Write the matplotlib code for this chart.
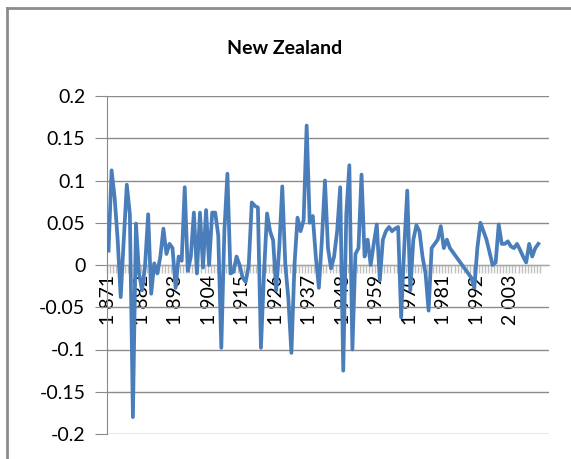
import matplotlib
matplotlib.use("Agg")
import matplotlib.pyplot as plt
import numpy as np
from matplotlib.ticker import FuncFormatter
from matplotlib.lines import Line2D

# yearly values, 1871-2012
years = list(range(1871, 2013))
values = [
    0.017, 0.112, 0.080, 0.030, -0.038, 0.030, 0.095, 0.060, -0.180, 0.049,
    -0.010, -0.030, 0.000, 0.060, -0.034, 0.002, -0.010, 0.010, 0.043, 0.013,
    0.025, 0.020, -0.027, 0.010, 0.005, 0.092, -0.007, 0.010, 0.062, -0.010,
    0.062, -0.003, 0.065, 0.000, 0.062, 0.062, 0.035, -0.098, 0.040, 0.108,
    -0.010, -0.008, 0.010, 0.000, -0.015, -0.020, 0.000, 0.074, 0.070, 0.068,
    -0.098, -0.010, 0.061, 0.040, 0.029, -0.030, 0.020, 0.093, 0.000, -0.040,
    -0.104, 0.000, 0.056, 0.040, 0.053, 0.165, 0.050, 0.058, 0.010, -0.027,
    0.030, 0.100, 0.020, -0.004, 0.010, 0.040, 0.092, -0.125, 0.060, 0.118,
    -0.100, 0.013, 0.020, 0.107, 0.010, 0.030, 0.000, 0.025, 0.048, -0.018,
    0.030, 0.040, 0.045, 0.040, 0.043, 0.045, -0.062, 0.020, 0.088, -0.030,
    0.030, 0.047, 0.040, 0.010, -0.010, -0.054, 0.020, 0.025, 0.030, 0.046,
    0.020, 0.030, 0.020, 0.015, 0.010, 0.005, 0.000, -0.005, -0.010, -0.015,
    -0.027, 0.020, 0.050, 0.040, 0.030, 0.015, 0.000, 0.003, 0.048, 0.025,
    0.025, 0.028, 0.022, 0.020, 0.025, 0.018, 0.010, 0.003, 0.025, 0.010,
    0.020, 0.025,
]
label_years = list(range(1871, 2013, 11))
y_ticks = [-0.2, -0.15, -0.1, -0.05, 0, 0.05, 0.1, 0.15, 0.2]

W, H = 571, 459
fig = plt.figure(figsize=(W / 100, H / 100), dpi=100)
plt.rcParams['font.family'] = ['Lato', 'DejaVu Sans']

# outer chart frame (left and top edges visible)
fig.add_artist(Line2D([7 / W, 7 / W], [0, 1 - 8 / H], color='#8c8c8c', lw=2))
fig.add_artist(Line2D([7 / W, 1], [1 - 8 / H, 1 - 8 / H], color='#8c8c8c', lw=2))

ax = fig.add_axes([107 / W, 25 / H, 442 / W, 338 / H])
x = np.arange(len(years))
ax.plot(x, values, color='#4a7ebb', lw=2.7, solid_joinstyle='round', zorder=3)

ax.set_ylim(-0.2, 0.2)
ax.set_xlim(-0.3, len(years) + 2.5)
ax.set_yticks(y_ticks)
ax.yaxis.set_major_formatter(FuncFormatter(lambda v, p: '%g' % round(v, 2)))
ax.grid(axis='y', color='#8a8a8a', lw=1)
ax.set_axisbelow(True)

for s in ['top', 'right']:
    ax.spines[s].set_visible(False)
ax.spines['left'].set_color('#8a8a8a')
ax.spines['bottom'].set_position(('data', 0))
ax.spines['bottom'].set_color('#a8a8a8')

ax.tick_params(axis='y', length=8.6, color='#8a8a8a', labelsize=14, pad=7)

lab_pos = [years.index(y) for y in label_years]
ax.set_xticks(lab_pos)
ax.set_xticklabels(['%d %03d' % (y // 1000, y % 1000) for y in label_years],
                   rotation=90, fontsize=14)
ax.set_xticks(np.arange(len(years) + 1) - 0.5, minor=True)
ax.tick_params(axis='x', which='major', length=0, pad=7)
ax.tick_params(axis='x', which='minor', length=6, direction='out', color='#c0c0c0', width=1)
for t in ax.get_xticklabels():
    t.set_verticalalignment('top')

fig.text(285 / W, 1 - 48 / H, 'New Zealand', ha='center', va='center',
         fontsize=14, fontweight='bold')

fig.savefig('out.png', dpi=100, facecolor='white')
